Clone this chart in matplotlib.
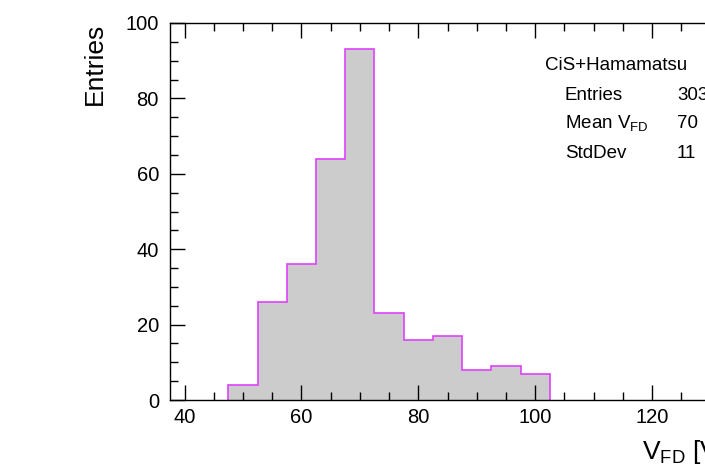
import numpy as np
import matplotlib.pyplot as plt
from matplotlib.ticker import MultipleLocator

plt.rcParams['font.family'] = ['Liberation Sans', 'DejaVu Sans']
plt.rcParams['mathtext.fontset'] = 'custom'
plt.rcParams['mathtext.rm'] = 'Liberation Sans'
plt.rcParams['mathtext.it'] = 'Liberation Sans:italic'

# histogram of full depletion voltage, 5 V bins
bin_edges = [47.5, 52.5, 57.5, 62.5, 67.5, 72.5, 77.5, 82.5, 87.5, 92.5, 97.5, 102.5]
counts = [4, 26, 36, 64, 93, 23, 16, 17, 8, 9, 7]
legend_title = 'CiS+Hamamatsu'
stat_names = ['Entries', r'Mean $\mathrm{V_{FD}}$', 'StdDev']
stat_values = ['303', '70', '11']

W, H = 705, 470
fig = plt.figure(figsize=(W / 100, H / 100), dpi=100)
# frame runs past the right border like the original
ax = fig.add_axes([170 / W, 70 / H, (725 - 170) / W, (400 - 23) / H])

ax.stairs(counts, bin_edges, fill=True, color='#cccccc')
ax.stairs(counts, bin_edges, color='#e040fb', lw=1.2)

ax.set_xlim(37.5, 132.5)
ax.set_ylim(0, 100)
ax.xaxis.set_major_locator(MultipleLocator(20))
ax.xaxis.set_minor_locator(MultipleLocator(5))
ax.yaxis.set_major_locator(MultipleLocator(20))
ax.yaxis.set_minor_locator(MultipleLocator(5))
ax.tick_params(which='both', direction='in', top=True, right=True, width=1, labelsize=14.5)
ax.tick_params(which='major', length=11)
ax.tick_params(which='minor', length=6)
ax.tick_params(axis='x', pad=6)
ax.tick_params(axis='y', pad=8)
for s in ax.spines.values():
    s.set_linewidth(1)

ax.set_ylabel('Entries', fontsize=19, loc='top')
ax.yaxis.set_label_coords(-0.1135, 1.0)
ax.set_xlabel(r'$\mathrm{V_{FD}}$ [V]', fontsize=19, loc='right', labelpad=8)

# stats box text
fig.text(545 / W, 1 - 66 / H, legend_title, fontsize=13.5, va='center', ha='left')
ys = [95, 123, 153]
for name, val, y in zip(stat_names, stat_values, ys):
    fig.text(565 / W, 1 - y / H, name, fontsize=13.5, va='center', ha='left')
    fig.text(677 / W, 1 - y / H, val, fontsize=13.5, va='center', ha='left')

fig.savefig('out.png', dpi=100)
